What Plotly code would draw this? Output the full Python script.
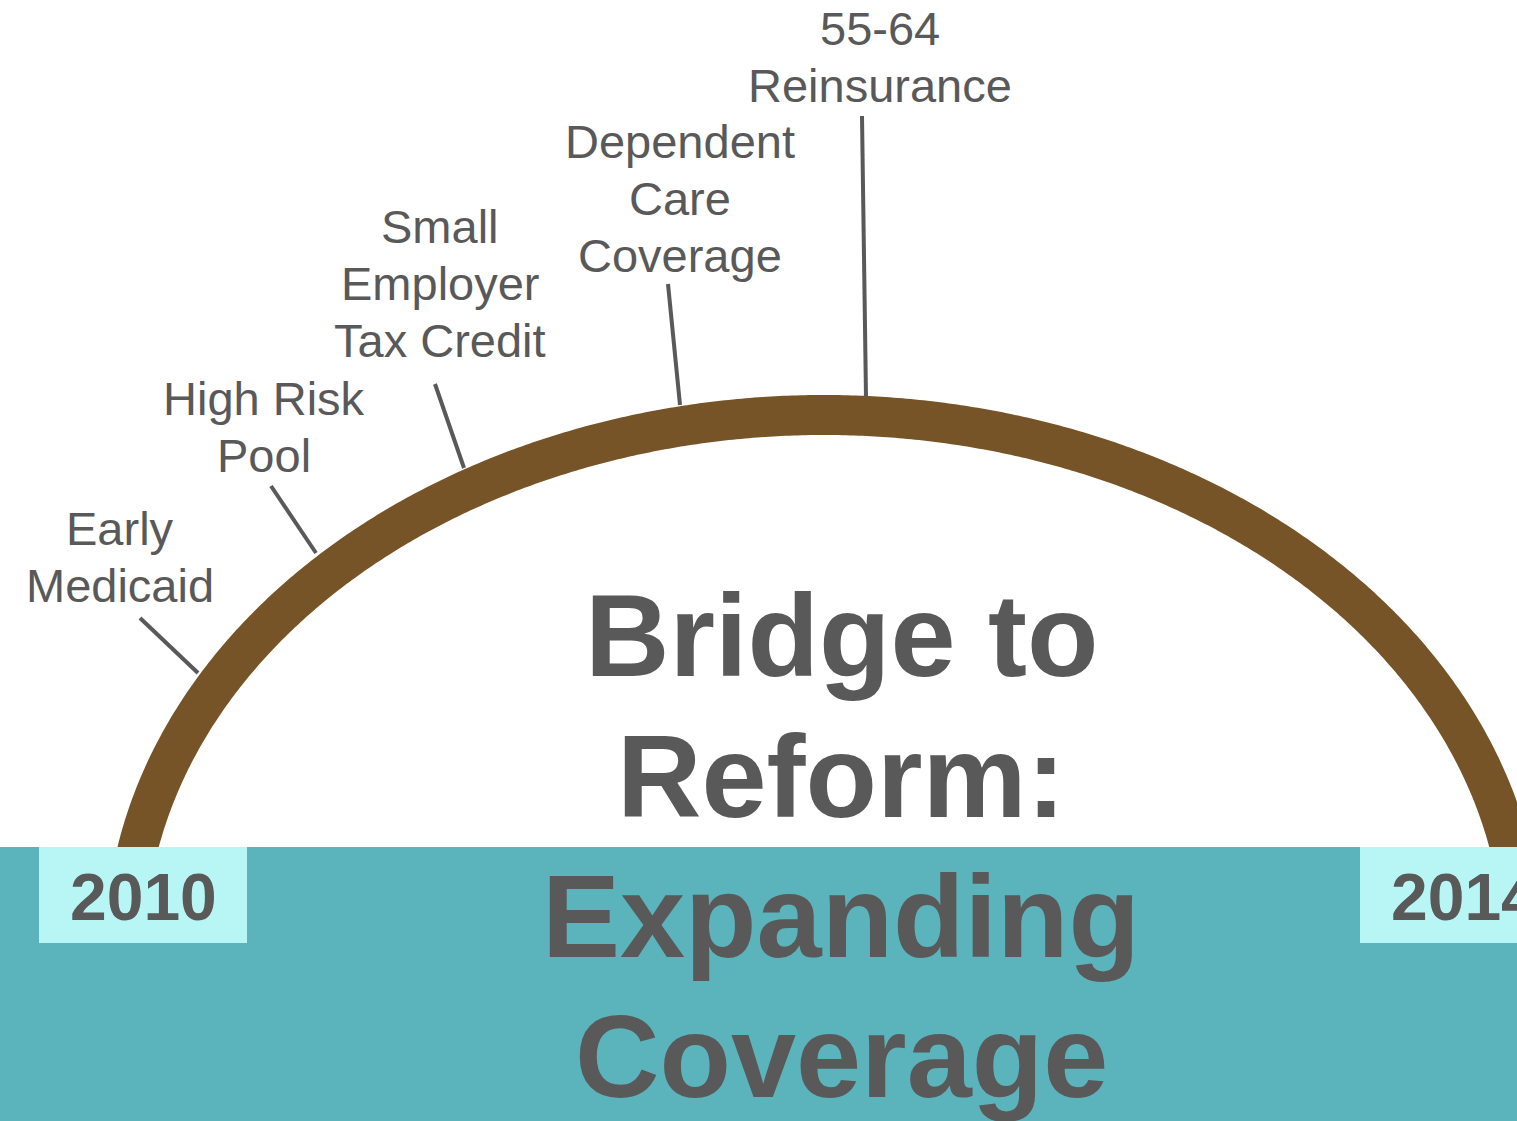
import numpy as np
import plotly.graph_objects as go

W, H = 1517, 1121

# Milestones along the bridge (one list entry per text line)
milestone_lines = [
    ["Early", "Medicaid"],
    ["High Risk", "Pool"],
    ["Small", "Employer", "Tax Credit"],
    ["Dependent", "Care", "Coverage"],
    ["55-64", "Reinsurance"],
]
milestone_x = [120, 264, 440, 680, 880]
milestone_last_baseline = [602, 472, 357, 272, 102]

# Leader lines from label to the arch
leader_x0 = [140, 271, 435, 668, 862]
leader_y0 = [618, 486, 384, 284, 116]
leader_x1 = [198, 316, 464, 680, 866]
leader_y1 = [673, 553, 468, 405, 397]

title_lines = ["Bridge to", "Reform:", "Expanding", "Coverage"]
title_baselines = [676, 817, 957, 1097]

years = ["2010", "2014"]
year_box_x0 = [39, 1360]

# Arch geometry (half ellipse)
arch_cx, arch_cy, arch_a, arch_b = 824, 950, 699, 535

TEXT = "#595959"
BROWN = "#765428"
TEAL = "#5BB3BB"
LIGHT = "#B8F6F6"
FONT = "Liberation Sans, Arial, sans-serif"

fig = go.Figure()

theta = np.linspace(np.radians(-12), np.radians(192), 600)
fig.add_trace(go.Scatter(
    x=arch_cx + arch_a * np.cos(theta),
    y=arch_cy - arch_b * np.sin(theta),
    mode="lines",
    line=dict(color=BROWN, width=40, simplify=False),
    hoverinfo="skip",
    showlegend=False,
))

for x0, y0, x1, y1 in zip(leader_x0, leader_y0, leader_x1, leader_y1):
    fig.add_trace(go.Scatter(
        x=[x0, x1], y=[y0, y1], mode="lines",
        line=dict(color=TEXT, width=4),
        hoverinfo="skip", showlegend=False,
    ))

shapes = [
    dict(type="rect", xref="x", yref="y", x0=0, x1=W, y0=847, y1=H,
         fillcolor=TEAL, line=dict(width=0), layer="above"),
]
for bx in year_box_x0:
    shapes.append(dict(type="rect", xref="x", yref="y", x0=bx, x1=bx + 208,
                       y0=847, y1=943, fillcolor=LIGHT, line=dict(width=0),
                       layer="above"))

annotations = []
label_fs = 47
label_step = 57
for lines, cx, last_base in zip(milestone_lines, milestone_x, milestone_last_baseline):
    n = len(lines)
    for i, line in enumerate(lines):
        base = last_base - (n - 1 - i) * label_step
        annotations.append(dict(
            x=cx, y=base - 0.345 * label_fs, xref="x", yref="y",
            text=line, showarrow=False, xanchor="center", yanchor="middle",
            font=dict(family=FONT, size=label_fs, color=TEXT),
        ))

title_fs = 117
for line, base in zip(title_lines, title_baselines):
    annotations.append(dict(
        x=841, y=base - 0.345 * title_fs, xref="x", yref="y",
        text=f"<b>{line}</b>", showarrow=False, xanchor="center", yanchor="middle",
        font=dict(family=FONT, size=title_fs, color=TEXT),
    ))

year_fs = 66
for yr, bx in zip(years, year_box_x0):
    annotations.append(dict(
        x=bx + 104, y=920 - 0.345 * year_fs, xref="x", yref="y",
        text=f"<b>{yr}</b>", showarrow=False, xanchor="center", yanchor="middle",
        font=dict(family=FONT, size=year_fs, color=TEXT),
    ))

fig.update_layout(
    width=W, height=H,
    margin=dict(l=0, r=0, t=0, b=0),
    paper_bgcolor="white", plot_bgcolor="white",
    xaxis=dict(range=[0, W], visible=False, fixedrange=True),
    yaxis=dict(range=[H, 0], visible=False, fixedrange=True),
    shapes=shapes,
    annotations=annotations,
    showlegend=False,
)

fig.write_html("out.html", config=dict(displayModeBar=False))
